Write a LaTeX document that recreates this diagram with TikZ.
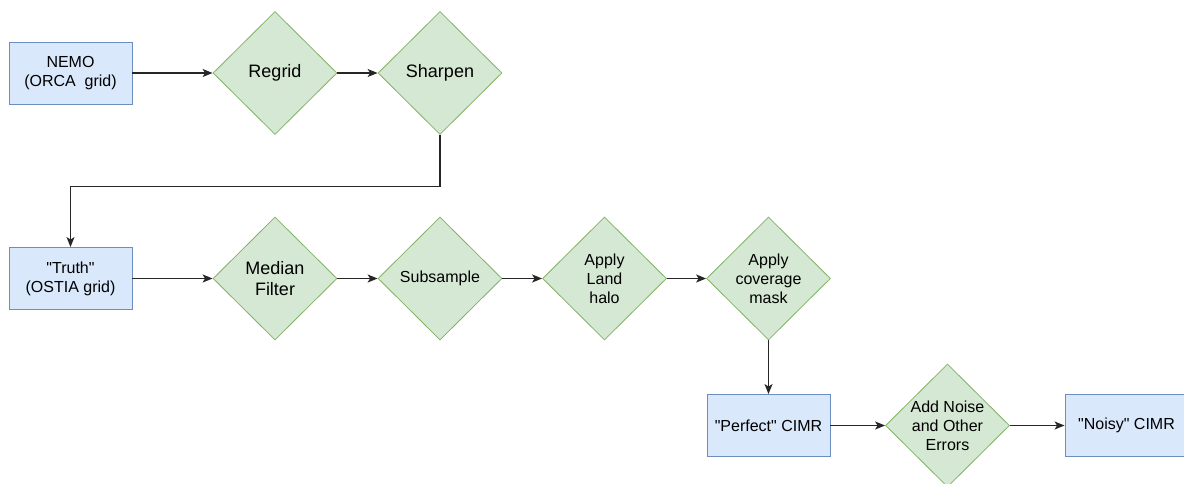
\documentclass[tikz,border=0pt]{standalone}
\usepackage{fontspec}
\setmainfont{Liberation Sans}
\usepackage{tikz}
\usetikzlibrary{calc,positioning,shapes,arrows.meta}
\definecolor{boxfill}{HTML}{DAE8FC}
\definecolor{boxline}{HTML}{6C8EBF}
\definecolor{opfill}{HTML}{D5E8D4}
\definecolor{opline}{HTML}{82B366}
\tikzset{box/.style={draw=boxline,fill=boxfill,rectangle,minimum width=123pt,minimum
height=62pt,inner sep=0pt,align=center,text=black,line width=0.9pt},op/.style={draw=opline,fill=opfill,diamond,minimum
width=124pt,minimum height=123pt,inner sep=-6pt,align=center,text=black,line width=0.8pt}}

\begin{document}
\begin{tikzpicture}[x=1pt, y=-1pt, >={Stealth[length=10pt,width=8pt,inset=2.5pt]},
		flow/.style = {->, line width=1.2pt, draw=black!85},
		small/.style = {font=\fontsize{16}{19}\selectfont},
		big/.style = {font=\fontsize{18}{21}\selectfont}]
		\clip (0,0) rectangle (1184,484);
		\node[box,small] (NEMO) at (70.5,73) {NEMO\\(ORCA\ \ grid)};
		\node[op,big] (Regrid) at (275,73) {Regrid};
		\node[op,big] (Sharpen) at (440,73) {Sharpen};

		\node[box,small] (Truth) at (70.5,278.5) {\textquotedbl Truth\textquotedbl\\(OSTIA grid)};
		\node[op,big] (Median) at (275,278.5) {Median\\Filter};
		\node[op,small] (Subsample) at (440,278.5) {Subsample};
		\node[op,small] (Halo) at (604.5,278.5) {Apply\\Land\\halo};
		\node[op,small] (Mask) at (768.5,278.5) {Apply\\coverage\\mask};

		\node[box,small] (Perfect) at (768.5,425.5) {\textquotedbl Perfect\textquotedbl\ CIMR};
		\node[op,small] (Noise) at (947.5,425.5) {Add Noise\\and Other\\Errors};
		\node[box,small] (Noisy) at (1126.5,425.5) {\textquotedbl Noisy\textquotedbl\ CIMR};

		\draw[flow] (NEMO) -- (Regrid);
		\draw[flow] (Regrid) -- (Sharpen);
		\draw[flow] (Sharpen.south) -- ++(0,51.5) -| (Truth.north);
		\draw[flow] (Truth) -- (Median);
		\draw[flow] (Median) -- (Subsample);
		\draw[flow] (Subsample) -- (Halo);
		\draw[flow] (Halo) -- (Mask);
		\draw[flow] (Mask) -- (Perfect);
		\draw[flow] (Perfect) -- (Noise);
		\draw[flow] (Noise) -- (Noisy);
	\end{tikzpicture}
\end{document}
